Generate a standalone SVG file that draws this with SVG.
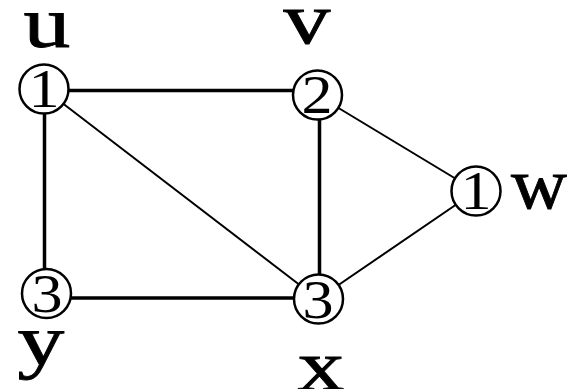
<svg xmlns="http://www.w3.org/2000/svg" width="567" height="389" viewBox="0 0 567 389">
<style>
.n{fill:#fff;stroke:#000;stroke-width:2.5}
.d{font-family:"Liberation Serif",serif;font-size:54px;text-anchor:middle;fill:#000}
.l{font-family:"Liberation Serif",serif;font-size:72px;text-anchor:middle;fill:#000;stroke:#000;stroke-width:0.8}
.e{stroke:#000;stroke-width:3.5}
.t{stroke:#000;stroke-width:2}
</style>
<rect width="567" height="389" fill="#fff"/>
<g id="edges">
<line class="e" x1="44" y1="90.5" x2="317" y2="90.5"/>
<line class="e" x1="44.5" y1="89" x2="44.5" y2="293"/>
<line class="e" x1="46" y1="298" x2="318" y2="298"/>
<line class="e" x1="319.5" y1="95" x2="319.5" y2="299"/>
<line class="t" x1="44" y1="89" x2="318" y2="299"/>
<line class="t" x1="317" y1="95" x2="476" y2="191"/>
<line class="t" x1="476" y1="191" x2="318" y2="299"/>
</g>
<g id="u">
<circle class="n" cx="44" cy="89" r="24.5"/>
<text class="d" x="44" y="107" transform="translate(44,0) scale(1.15,1) translate(-44,0)">1</text>
<text class="l" x="0" y="47" transform="translate(47,0) scale(1.3,1)">u</text>
</g>
<g id="v">
<circle class="n" cx="317.5" cy="95" r="24.5"/>
<text class="d" x="317" y="113" transform="translate(317,0) scale(1.15,1) translate(-317,0)">2</text>
<text class="l" x="0" y="43" transform="translate(307,0) scale(1.3,1)">v</text>
</g>
<g id="w">
<circle class="n" cx="476" cy="191" r="24.5"/>
<text class="d" x="476" y="209" transform="translate(476,0) scale(1.15,1) translate(-476,0)">1</text>
<text class="l" x="0" y="208" transform="translate(539,0) scale(1.08,1)">w</text>
</g>
<g id="y">
<circle class="n" cx="46.5" cy="293.5" r="24.5"/>
<text class="d" x="47" y="312" transform="translate(47,0) scale(1.15,1) translate(-47,0)">3</text>
<text class="l" x="0" y="365" transform="translate(41,0) scale(1.3,1)">y</text>
</g>
<g id="x">
<circle class="n" cx="318.5" cy="299" r="24.5"/>
<text class="d" x="318" y="318" transform="translate(318,0) scale(1.15,1) translate(-318,0)">3</text>
<text class="l" x="0" y="390" transform="translate(321,0) scale(1.3,1)">x</text>
</g>
</svg>
